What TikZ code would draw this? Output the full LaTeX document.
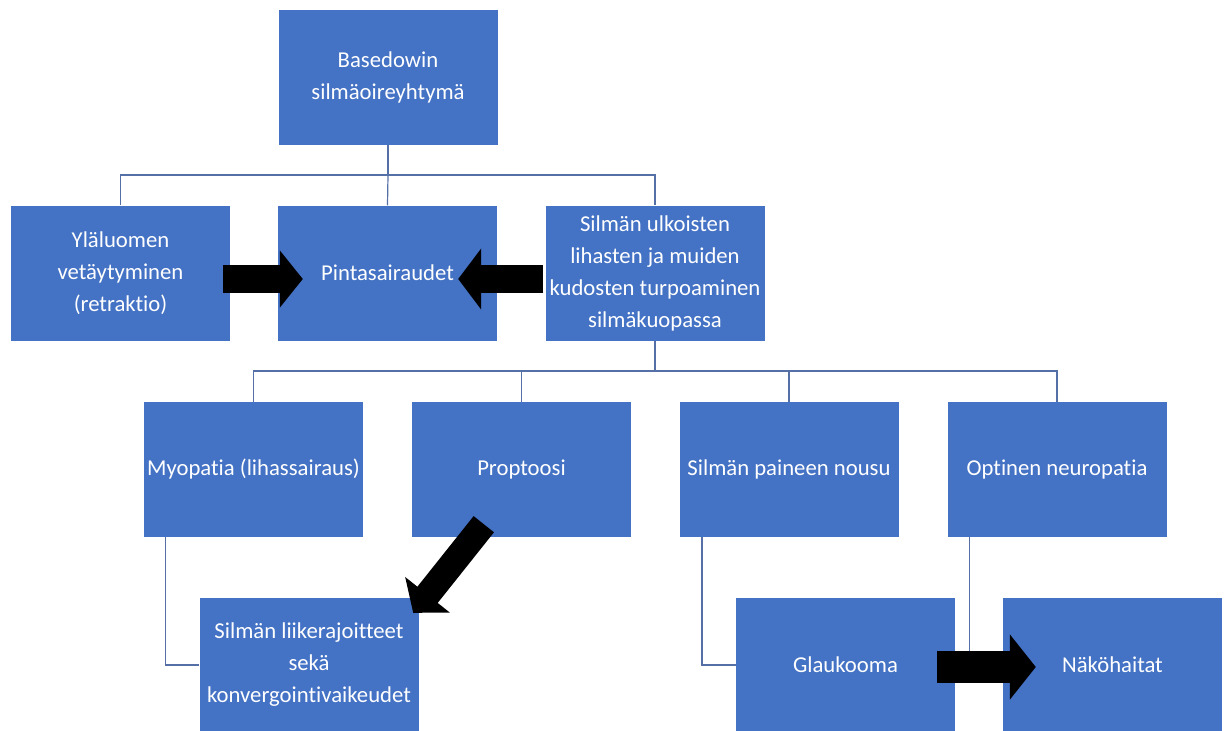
\documentclass[tikz,border=0pt]{standalone}
\usepackage{fontspec}
\setmainfont{Carlito}[Ligatures=NoCommon]
\usetikzlibrary{arrows.meta}
\definecolor{boxblue}{RGB}{68,114,196}
\definecolor{lineblue}{RGB}{84,112,166}

\begin{document}
\begin{tikzpicture}[x=1pt,y=-1pt]
\tikzset{
  box/.style={fill=boxblue, minimum width=219pt, minimum height=135pt, inner sep=0pt,
    align=center, text=white, font=\fontsize{22.7}{32}\selectfont},
  conn/.style={draw=lineblue, line width=1.2pt},
  blockarrow/.style={line width=28pt, -{Triangle[length=23pt,width=56pt]}}
}
\useasboundingbox (0,0) rectangle (1224,731);
\node[box] (oire) at (388,77.5) {Basedowin\\silmäoireyhtymä};
\node[box] (ylaluomi) at (120.5,273) {Yläluomen\\vetäytyminen\\(retraktio)};
\node[box] (pinta) at (387.5,273) {Pintasairaudet};
\node[box] (turpoam) at (655,273) {Silmän ulkoisten\\lihasten ja muiden\\kudosten turpoaminen\\silmäkuopassa};
\node[box] (myopatia) at (253.5,469.5) {Myopatia (lihassairaus)};
\node[box] (proptoosi) at (521.5,469.5) {Proptoosi};
\node[box] (paine) at (789,469.5) {Silmän paineen nousu};
\node[box] (neuropatia) at (1057,469.5) {Optinen neuropatia};
\node[box] (liike) at (309,665) {Silmän liikerajoitteet\\sekä\\konvergointivaikeudet};
\node[box] (glaukooma) at (845.5,665) {Glaukooma};
\node[box] (nakohaitat) at (1112.5,665) {Näköhaitat};
\coordinate (bus1) at (388,175);
\coordinate (bus2) at (655,371);
\draw[conn] (oire.south) -- (bus1);
\draw[conn] (bus1) -| (ylaluomi.north);
\draw[conn] (bus1) -- (pinta.north);
\draw[conn] (bus1) -| (turpoam.north);
\draw[conn] (turpoam.south) -- (bus2);
\draw[conn] (bus2) -| (myopatia.north);
\draw[conn] (bus2) -| (proptoosi.north);
\draw[conn] (bus2) -| (paine.north);
\draw[conn] (bus2) -| (neuropatia.north);
\draw[conn] ([xshift=-88pt]myopatia.south) |- (liike.west);
\draw[conn] ([xshift=-87pt]paine.south) |- (glaukooma.west);
\draw[conn] ([xshift=-87.5pt]neuropatia.south) |- (nakohaitat.west);
\draw[blockarrow] ([xshift=-7pt,yshift=-6pt]ylaluomi.east) -- ([xshift=25pt,yshift=-6pt]pinta.west);
\draw[blockarrow, -{Triangle[length=23pt,width=60pt]}] ([xshift=-2pt,yshift=-6pt]turpoam.west) -- ([xshift=-39pt,yshift=-6pt]pinta.east);
\draw[blockarrow, line width=26pt] ([xshift=72pt,yshift=13pt]proptoosi.south west) -- ([xshift=-5.5pt,yshift=-15.5pt]liike.north east);
\draw[blockarrow, line width=32pt, -{Triangle[length=26pt,width=64pt]}] ([xshift=-18pt,yshift=-2pt]glaukooma.east) -- ([xshift=33pt,yshift=-2pt]nakohaitat.west);
\end{tikzpicture}
\end{document}
